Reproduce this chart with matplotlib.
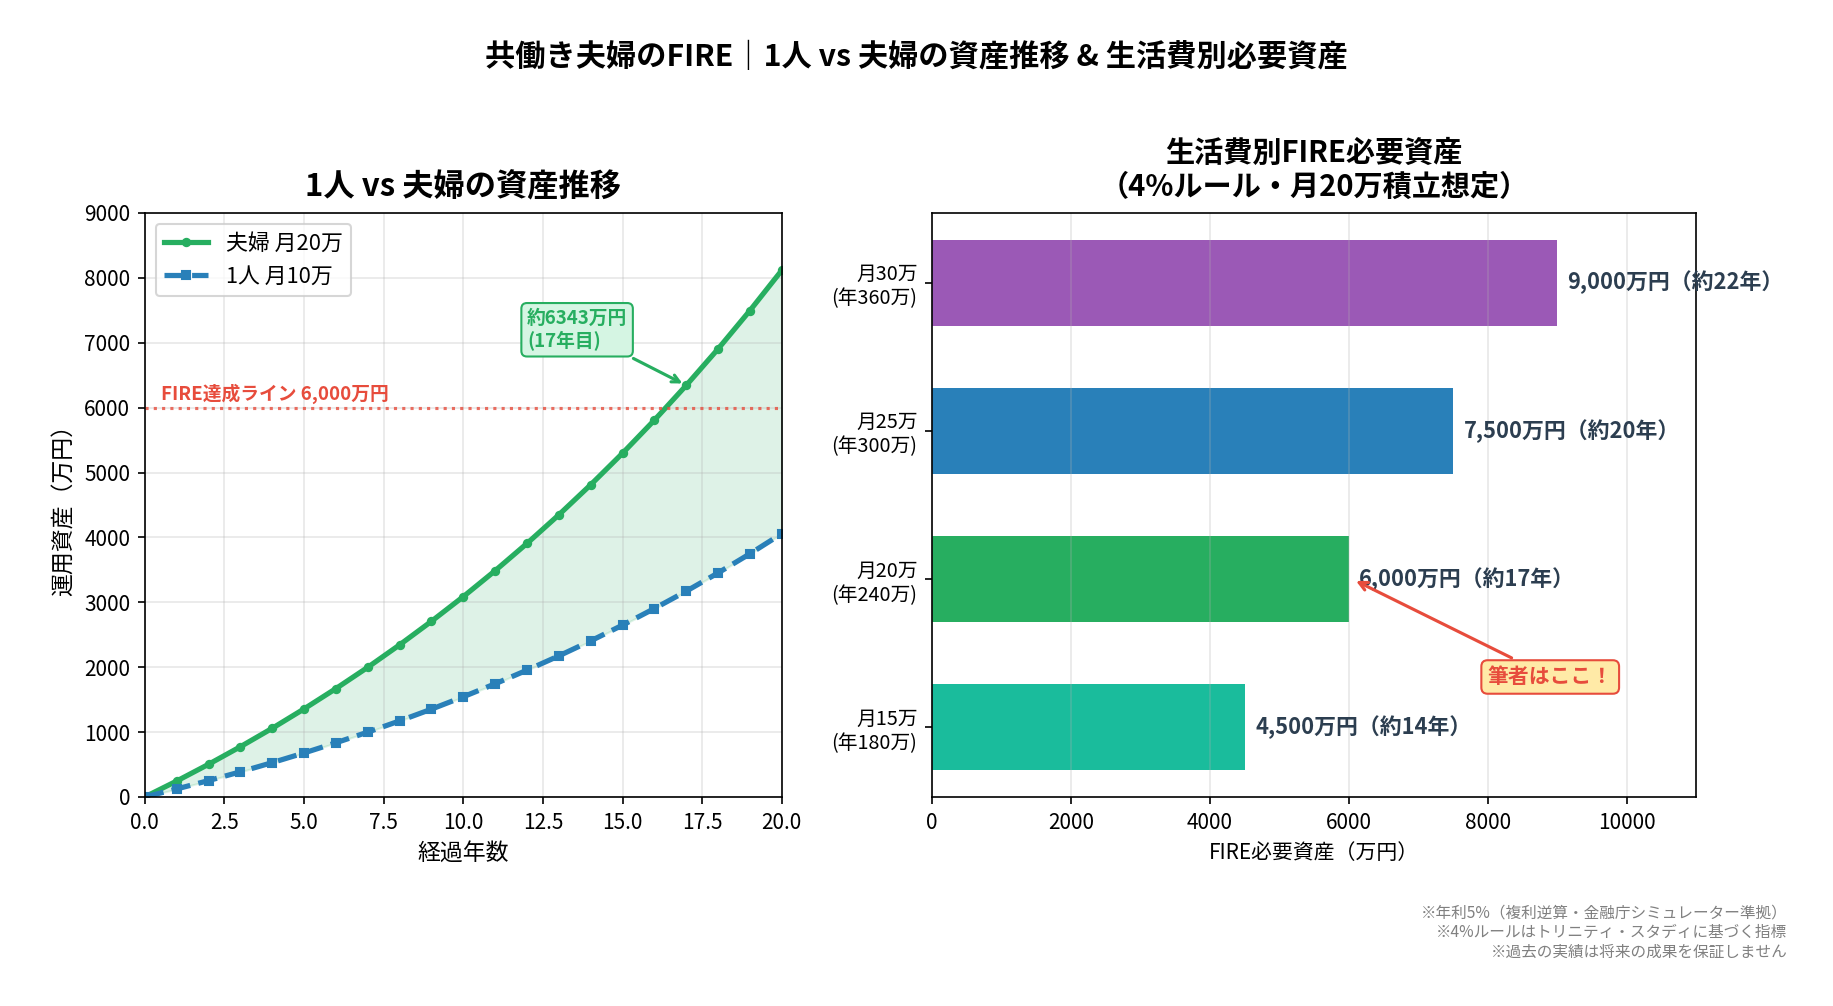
import matplotlib
matplotlib.use("Agg")
import matplotlib.pyplot as plt

plt.rcParams['font.family'] = ['Noto Sans CJK JP', 'DejaVu Sans']

# 資産推移（万円）
years = list(range(21))
couple = [0, 245, 503, 774, 1058, 1357, 1670, 1998, 2344, 2707, 3087,
          3487, 3907, 4348, 4811, 5297, 5807, 6343, 6905, 7496, 8116]
single = [0, 123, 252, 387, 529, 678, 835, 999, 1172, 1353, 1544,
          1744, 1954, 2174, 2405, 2648, 2904, 3171, 3453, 3748, 4058]
fire_target = 6000

# 生活費別必要資産
cost_labels = ['月15万\n(年180万)', '月20万\n(年240万)', '月25万\n(年300万)', '月30万\n(年360万)']
required = [4500, 6000, 7500, 9000]
years_needed = [14, 17, 20, 22]
bar_colors = ['#1abc9c', '#27ae60', '#2980b9', '#9b59b6']

green = '#27ae60'
blue = '#2980b9'
red = '#e74c3c'

fig = plt.figure(figsize=(1833 / 150, 1006 / 150), dpi=150)
ax1 = fig.add_axes([0.079, 0.2078, 0.3475, 0.5805])
ax2 = fig.add_axes([0.5085, 0.2078, 0.4168, 0.5805])

fig.suptitle('共働き夫婦のFIRE｜1人 vs 夫婦の資産推移 & 生活費別必要資産',
             fontsize=14.5, fontweight='bold', y=0.958)

# --- 左：資産推移 ---
ax1.plot(years, couple, color=green, lw=2.5, marker='o', markersize=3.5, label='夫婦 月20万')
ax1.plot(years, single, color=blue, lw=2.5, ls='--', marker='s', markersize=3.5, label='1人 月10万')
ax1.fill_between(years, single, couple, color=green, alpha=0.15)
ax1.axhline(fire_target, color=red, ls=':', lw=1.5, alpha=0.8)
ax1.text(0.5, fire_target + 60, 'FIRE達成ライン 6,000万円', color=red,
         fontsize=9, fontweight='bold', va='bottom')
ax1.annotate(f'約{couple[17]}万円\n(17年目)', xy=(17, couple[17]), xytext=(12.0, 7200),
             fontsize=9, fontweight='bold', color=green, va='center', ha='left',
             bbox=dict(boxstyle='round,pad=0.3', fc='#d5f5e3', ec=green, lw=1),
             arrowprops=dict(arrowstyle='->', color=green, lw=1.5))
ax1.set_xlim(0, 20)
ax1.set_ylim(0, 9000)
ax1.set_title('1人 vs 夫婦の資産推移', fontsize=15, fontweight='bold', pad=8)
ax1.set_xlabel('経過年数', fontsize=11)
ax1.set_ylabel('運用資産（万円）', fontsize=11)
ax1.grid(alpha=0.3)
ax1.tick_params(labelsize=10)
ax1.legend(loc='upper left', fontsize=10.5)

# --- 右：生活費別必要資産 ---
ypos = range(len(required))
ax2.barh(ypos, required, color=bar_colors, height=0.58)
for y, v, n in zip(ypos, required, years_needed):
    ax2.text(v + 150, y, f'{v:,}万円（約{n}年）', va='center', ha='left',
             fontsize=10.5, fontweight='bold', color='#2c3e50')
ax2.set_yticks(list(ypos))
ax2.set_yticklabels(cost_labels, fontsize=9.5)
ax2.set_xlim(0, 11000)
ax2.set_xlabel('FIRE必要資産（万円）', fontsize=10)
ax2.set_title('生活費別FIRE必要資産\n（4%ルール・月20万積立想定）', fontsize=14,
              fontweight='bold', pad=8)
ax2.grid(axis='x', alpha=0.3)
ax2.tick_params(axis='x', labelsize=10)
ax2.annotate('筆者はここ！', xy=(6050, 1.0), xytext=(8900, 0.34),
             fontsize=10, fontweight='bold', color=red, ha='center', va='center',
             bbox=dict(boxstyle='round,pad=0.3', fc='#ffeaa7', ec=red, lw=1),
             arrowprops=dict(arrowstyle='->', color=red, lw=1.5))

fig.text(0.975, 0.045,
         '※年利5%（複利逆算・金融庁シミュレーター準拠）\n'
         '※4%ルールはトリニティ・スタディに基づく指標\n'
         '※過去の実績は将来の成果を保証しません',
         ha='right', va='bottom', fontsize=7.5, color='gray', linespacing=1.2)

fig.savefig('out.png', dpi=150)
